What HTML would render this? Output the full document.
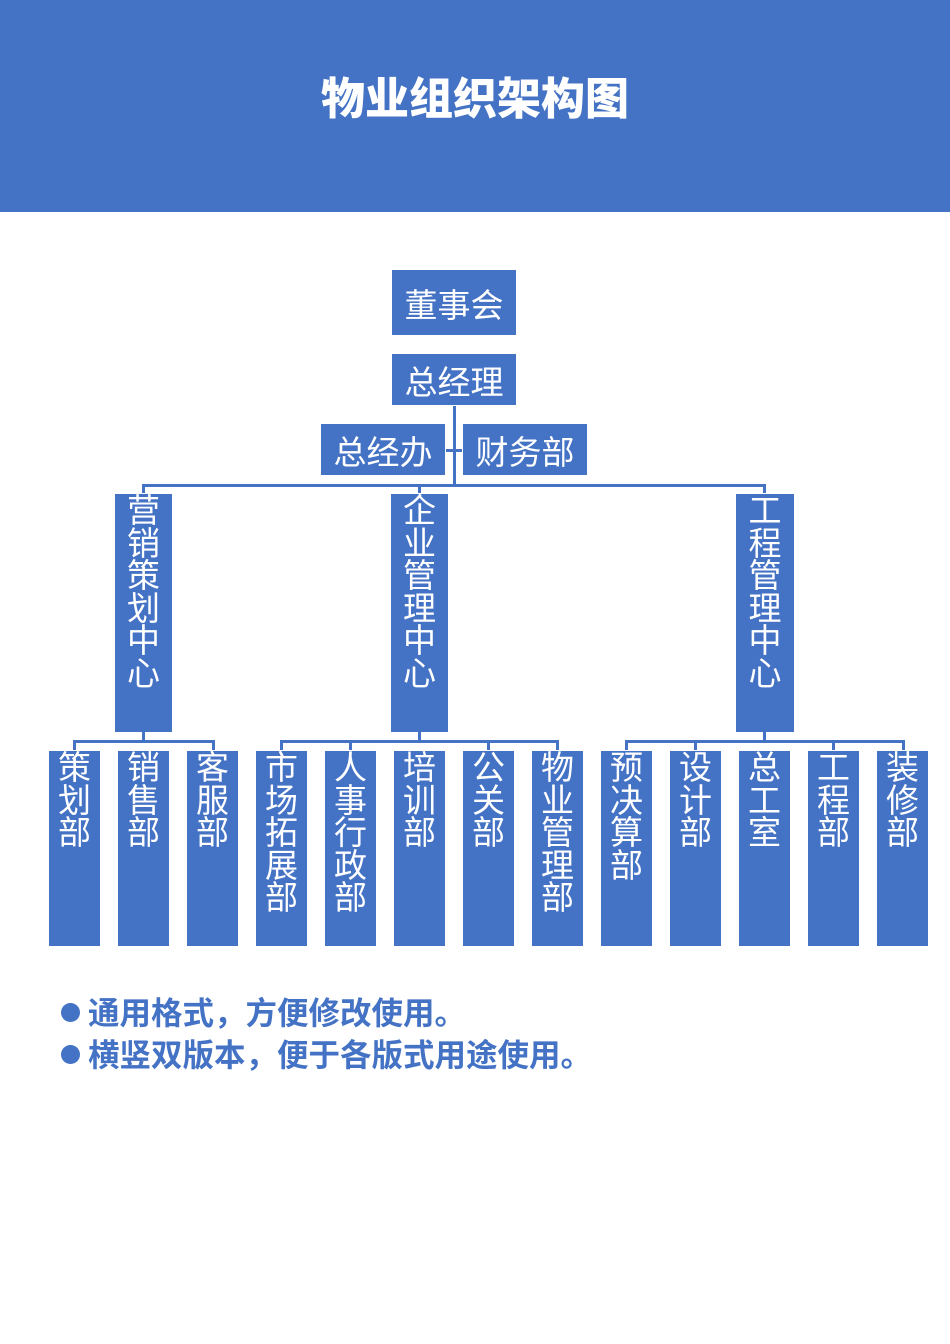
<!DOCTYPE html>
<html><head><meta charset="utf-8"><style>
body{margin:0;width:950px;height:1344px;background:#fff;position:relative;overflow:hidden;font-family:"Liberation Sans","Noto Sans CJK SC",sans-serif}
.hd{position:absolute;left:0;top:0;width:950px;height:212px;background:#4472c4}
.t{position:absolute;left:0;top:70px;width:950px;text-align:center;color:#fff;font-weight:900;font-size:44px;line-height:60px}
.b{position:absolute;background:#4472c4;border:1px solid #fff;box-sizing:border-box;color:#fff;font-size:33px;text-align:center}
.h{display:flex;align-items:center;justify-content:center}
.v{line-height:32.5px;padding-top:1px;word-break:break-all}
.l{position:absolute;background:#4472c4}
.p{position:absolute;left:88px;color:#4472c4;font-weight:bold;font-size:31.5px;line-height:36px}
.dot{position:absolute;left:61px;width:19px;height:19px;border-radius:50%;background:#4472c4}
</style></head><body>
<div class="hd"></div><div class="t">物业组织架构图</div>
<div class="l" style="left:453px;top:405px;width:3px;height:82px"></div>
<div class="l" style="left:446px;top:449px;width:16px;height:3px"></div>
<div class="l" style="left:142px;top:484px;width:624px;height:3px"></div>
<div class="l" style="left:142px;top:484px;width:3px;height:10px"></div>
<div class="l" style="left:418px;top:484px;width:3px;height:10px"></div>
<div class="l" style="left:763px;top:484px;width:3px;height:10px"></div>
<div class="b h" style="left:391px;top:269px;width:126px;height:67px">董事会</div>
<div class="b h" style="left:391px;top:353px;width:126px;height:53px">总经理</div>
<div class="b h" style="left:320px;top:423px;width:126px;height:53px">总经办</div>
<div class="b h" style="left:462px;top:423px;width:126px;height:53px">财务部</div>
<div class="b v" style="left:114px;top:493px;width:59px;height:240px">营销策划中心</div>
<div class="b v" style="left:390px;top:493px;width:59px;height:240px">企业管理中心</div>
<div class="b v" style="left:735px;top:493px;width:60px;height:240px">工程管理中心</div>
<div class="l" style="left:142px;top:732px;width:3px;height:10px"></div>
<div class="l" style="left:73px;top:740px;width:142px;height:3px"></div>
<div class="l" style="left:418px;top:732px;width:3px;height:10px"></div>
<div class="l" style="left:280px;top:740px;width:279px;height:3px"></div>
<div class="l" style="left:763px;top:732px;width:3px;height:10px"></div>
<div class="l" style="left:625px;top:740px;width:280px;height:3px"></div>
<div class="l" style="left:73px;top:740px;width:3px;height:10px"></div>
<div class="l" style="left:212px;top:740px;width:3px;height:10px"></div>
<div class="l" style="left:280px;top:740px;width:3px;height:10px"></div>
<div class="l" style="left:349px;top:740px;width:3px;height:10px"></div>
<div class="l" style="left:487px;top:740px;width:3px;height:10px"></div>
<div class="l" style="left:556px;top:740px;width:3px;height:10px"></div>
<div class="l" style="left:625px;top:740px;width:3px;height:10px"></div>
<div class="l" style="left:694px;top:740px;width:3px;height:10px"></div>
<div class="l" style="left:832px;top:740px;width:3px;height:10px"></div>
<div class="l" style="left:902px;top:740px;width:3px;height:10px"></div>
<div class="b v" style="left:48px;top:750px;width:53px;height:197px">策划部</div>
<div class="b v" style="left:117px;top:750px;width:53px;height:197px">销售部</div>
<div class="b v" style="left:186px;top:750px;width:53px;height:197px">客服部</div>
<div class="b v" style="left:255px;top:750px;width:53px;height:197px">市场拓展部</div>
<div class="b v" style="left:324px;top:750px;width:53px;height:197px">人事行政部</div>
<div class="b v" style="left:393px;top:750px;width:53px;height:197px">培训部</div>
<div class="b v" style="left:462px;top:750px;width:53px;height:197px">公关部</div>
<div class="b v" style="left:531px;top:750px;width:53px;height:197px">物业管理部</div>
<div class="b v" style="left:600px;top:750px;width:53px;height:197px">预决算部</div>
<div class="b v" style="left:669px;top:750px;width:53px;height:197px">设计部</div>
<div class="b v" style="left:738px;top:750px;width:53px;height:197px">总工室</div>
<div class="b v" style="left:807px;top:750px;width:53px;height:197px">工程部</div>
<div class="b v" style="left:876px;top:750px;width:53px;height:197px">装修部</div>
<div class="dot" style="top:1003px"></div>
<div class="p" style="top:995px">通用格式，方便修改使用。</div>
<div class="dot" style="top:1045px"></div>
<div class="p" style="top:1037px">横竖双版本，便于各版式用途使用。</div>
</body></html>
